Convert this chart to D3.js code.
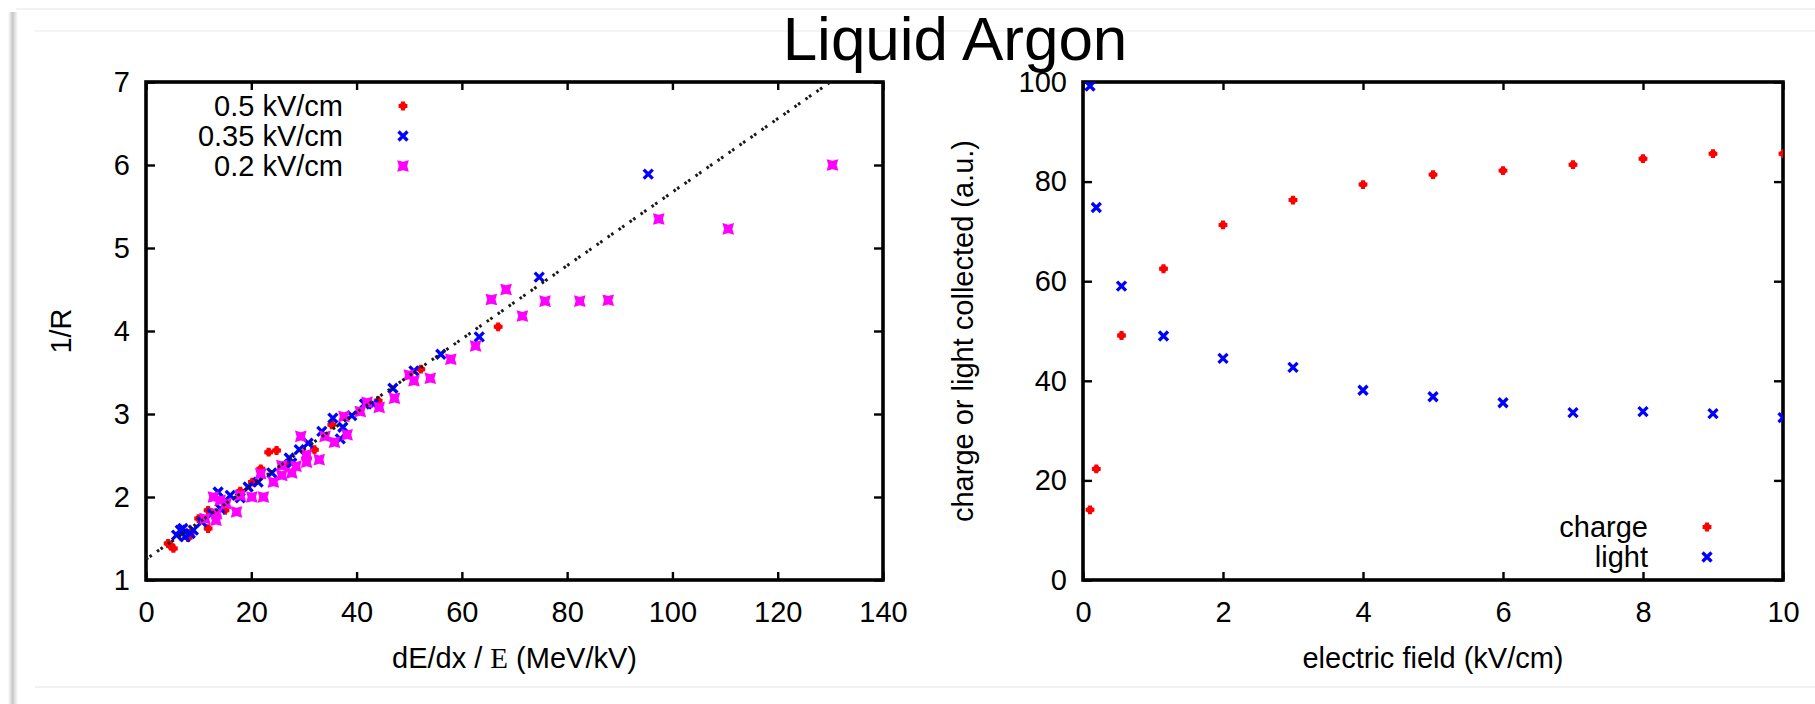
<!DOCTYPE html>
<html>
<head>
<meta charset="utf-8">
<script src="https://cdn.jsdelivr.net/npm/d3@7"></script>
<style>
  html, body { margin: 0; padding: 0; background: #fff; }
  svg { display: block; }
  text { font-family: "Liberation Sans", Arial, Helvetica, sans-serif; fill: #000; }
</style>
</head>
<body>
<svg id="chart" width="1815" height="704"></svg>
<script>
// ---------------- DATA ----------------
const title = "Liquid Argon";

// Left panel: 1/R vs dE/dx / E (MeV/kV)
const leftXTicks = [0, 20, 40, 60, 80, 100, 120, 140];
const leftYTicks = [1, 2, 3, 4, 5, 6, 7];
const seriesNames = ["0.5 kV/cm", "0.35 kV/cm", "0.2 kV/cm"];

const field05 = [
  [4.2,1.44],[4.6,1.42],[5.2,1.38],[8.0,1.51],[8.4,1.56],[10.0,1.74],[11.8,1.62],[11.8,1.84],
  [15.0,1.84],[17.9,2.07],[20.2,2.18],[21.8,2.34],[23.3,2.54],[24.8,2.56],[26.7,2.40],
  [32.0,2.57],[35.3,2.87],[44.1,3.16],[52.2,3.54],[66.9,4.05]
];
const field035 = [
  [5.8,1.54],[6.5,1.60],[7.0,1.62],[7.4,1.52],[8.4,1.56],[9.0,1.60],[10.6,1.70],[12.5,1.80],
  [13.7,2.06],[14.1,1.86],[16.0,2.02],[17.9,1.99],[19.4,2.12],[21.3,2.18],[23.9,2.29],
  [27.2,2.47],[27.7,2.41],[29.1,2.57],[30.8,2.65],[33.4,2.79],[35.5,2.95],[36.9,2.70],
  [37.4,2.84],[39.1,2.98],[41.5,3.12],[43.2,3.12],[46.9,3.31],[50.9,3.52],[56.0,3.72],
  [63.3,3.93],[74.7,4.65],[95.4,5.89]
];
const field02 = [
  [11.2,1.74],[12.8,2.00],[13.3,1.72],[13.4,1.80],[14.1,1.96],[15.2,1.92],[17.2,1.82],
  [17.9,2.02],[20.1,2.00],[22.3,2.00],[21.8,2.28],[24.2,2.18],[25.8,2.26],[25.8,2.38],
  [27.7,2.29],[28.5,2.37],[29.4,2.73],[30.5,2.42],[30.5,2.51],[32.9,2.45],[34.0,2.73],
  [35.8,2.66],[37.6,2.97],[38.2,2.75],[40.7,3.03],[42.0,3.14],[44.3,3.08],[47.2,3.19],
  [50.0,3.47],[50.9,3.40],[54.0,3.43],[57.9,3.66],[62.6,3.82],[65.6,4.38],[68.4,4.50],
  [71.5,4.18],[75.8,4.36],[82.4,4.36],[87.8,4.37],[97.4,5.35],[110.6,5.23],[130.4,6.00]
];
// linear fit (dotted line) end points
const fitX = [0, 130];
const fitY = [1.25, 7.0];

// Right panel: charge / light collected vs electric field
const rightXTicks = [0, 2, 4, 6, 8, 10];
const rightYTicks = [0, 20, 40, 60, 80, 100];
const fieldKV = [0.1, 0.19, 0.55, 1.15, 2, 3, 4, 5, 6, 7, 8, 9, 10];
const chargeVals = [14.1, 22.3, 49.1, 62.5, 71.3, 76.3, 79.4, 81.4, 82.2, 83.4, 84.6, 85.6, 85.6];
const lightVals  = [99.2, 74.8, 59.0, 49.0, 44.5, 42.7, 38.1, 36.8, 35.6, 33.6, 33.8, 33.4, 32.6];

// ---------------- DRAWING ----------------
const svg = d3.select("#chart");
const FS = 29;
const RED = "#ff0000", BLUE = "#0000ff", MAG = "#ff00ff";

// slide frame
const defs = svg.append("defs");
const grad = defs.append("linearGradient").attr("id", "shadow").attr("x1", 0).attr("x2", 1);
grad.append("stop").attr("offset", 0).attr("stop-color", "#fff");
grad.append("stop").attr("offset", 0.45).attr("stop-color", "#c8c8c8");
grad.append("stop").attr("offset", 1).attr("stop-color", "#fff");
svg.append("rect").attr("x", 8).attr("y", 12).attr("width", 10).attr("height", 692).attr("fill", "url(#shadow)");
svg.append("line").attr("x1", 16).attr("x2", 1815).attr("y1", 9).attr("y2", 9).attr("stroke", "#efefef").attr("stroke-width", 1.5);
svg.append("line").attr("x1", 35).attr("x2", 1815).attr("y1", 31).attr("y2", 31).attr("stroke", "#f0f0f0").attr("stroke-width", 1.5);
svg.append("line").attr("x1", 35).attr("x2", 1815).attr("y1", 687).attr("y2", 687).attr("stroke", "#ececec").attr("stroke-width", 1.5);

// markers
function plusPath(s) {
  const a = s * 0.45;
  return `M${-a},${-s}L${a},${-s}L${a},${-a}L${s},${-a}L${s},${a}L${a},${a}L${a},${s}L${-a},${s}L${-a},${a}L${-s},${a}L${-s},${-a}L${-a},${-a}Z`;
}
function starPath(s) {
  const n = s * 0.72;
  return `M${-s},${-s}L0,${-n}L${s},${-s}L${n},0L${s},${s}L0,${n}L${-s},${s}L${-n},0Z`;
}
function drawMarker(g, kind, x, y) {
  if (kind === "plus") {
    g.append("path").attr("transform", `translate(${x},${y})`).attr("d", plusPath(4.4)).attr("fill", RED);
    g.append("circle").attr("cx", x).attr("cy", y).attr("r", 3.4).attr("fill", RED);
  } else if (kind === "x") {
    const s = 4.5;
    g.append("path").attr("transform", `translate(${x},${y})`)
      .attr("d", `M${-s},${-s}L${s},${s}M${s},${-s}L${-s},${s}`)
      .attr("stroke", BLUE).attr("stroke-width", 3.3).attr("fill", "none");
  } else {
    g.append("path").attr("transform", `translate(${x},${y})`).attr("d", starPath(5.8)).attr("fill", MAG);
  }
}

function panel(box, xDomain, yDomain, xTicks, yTicks, clipId) {
  const x = d3.scaleLinear().domain(xDomain).range([box.x0, box.x1]);
  const y = d3.scaleLinear().domain(yDomain).range([box.y1, box.y0]);
  const g = svg.append("g");
  defs.append("clipPath").attr("id", clipId).append("rect")
    .attr("x", box.x0).attr("y", box.y0).attr("width", box.x1 - box.x0).attr("height", box.y1 - box.y0);

  const tickW = 2.4;
  const bottom = g.append("g").attr("transform", `translate(0,${box.y1})`)
    .call(d3.axisBottom(x).tickValues(xTicks).tickSizeInner(-8).tickSizeOuter(0).tickPadding(21.5).tickFormat(d3.format("d")));
  const left = g.append("g").attr("transform", `translate(${box.x0},0)`)
    .call(d3.axisLeft(y).tickValues(yTicks).tickSizeInner(-9).tickSizeOuter(0).tickPadding(16).tickFormat(d3.format("d")));
  const top = g.append("g").attr("transform", `translate(0,${box.y0})`)
    .call(d3.axisTop(x).tickValues(xTicks).tickSizeInner(-8).tickSizeOuter(0).tickFormat(""));
  const right = g.append("g").attr("transform", `translate(${box.x1},0)`)
    .call(d3.axisRight(y).tickValues(yTicks).tickSizeInner(-9).tickSizeOuter(0).tickFormat(""));
  [bottom, left, top, right].forEach(a => {
    a.select(".domain").remove();
    a.selectAll("line").attr("stroke", "#000").attr("stroke-width", tickW);
    a.selectAll("text").attr("font-size", FS).attr("font-family", "Liberation Sans, Arial, sans-serif").attr("fill", "#000");
  });
  g.append("rect").attr("x", box.x0).attr("y", box.y0).attr("width", box.x1 - box.x0).attr("height", box.y1 - box.y0)
    .attr("fill", "none").attr("stroke", "#000").attr("stroke-width", 3.6);
  const plot = svg.append("g").attr("clip-path", `url(#${clipId})`);
  return { x, y, plot };
}

// ---- Left panel ----
const LB = { x0: 146, x1: 883, y0: 82, y1: 580 };
const lp = panel(LB, [0, 140], [1, 7], leftXTicks, leftYTicks, "clipL");
field05.forEach(d => drawMarker(lp.plot, "plus", lp.x(d[0]), lp.y(d[1])));
field035.forEach(d => drawMarker(lp.plot, "x", lp.x(d[0]), lp.y(d[1])));
field02.forEach(d => drawMarker(lp.plot, "star", lp.x(d[0]), lp.y(d[1])));
lp.plot.append("path")
  .datum(fitX.map((v, i) => [v, fitY[i]]))
  .attr("d", d3.line().x(d => lp.x(d[0])).y(d => lp.y(d[1])))
  .attr("stroke", "#1a1a1a").attr("stroke-width", 3).attr("fill", "none")
  .attr("stroke-dasharray", "2.6 1.8 2.6 6.4");

// left legend
const legL = svg.append("g");
const legKinds = ["plus", "x", "star"];
seriesNames.forEach((name, i) => {
  const cy = 106 + i * 30;
  legL.append("text").attr("x", 343).attr("y", cy).attr("dy", "0.36em").attr("text-anchor", "end")
    .attr("font-size", FS).text(name);
  drawMarker(legL, legKinds[i], 403, cy);
});

// left axis labels
const xl = svg.append("text").attr("x", (LB.x0 + LB.x1) / 2).attr("y", 668).attr("text-anchor", "middle").attr("font-size", FS);
xl.append("tspan").text("dE/dx / ");
xl.append("tspan").attr("font-family", "Liberation Serif, Times New Roman, serif").text("E");
xl.append("tspan").text(" (MeV/kV)");
svg.append("text").attr("transform", `translate(61,${(LB.y0 + LB.y1) / 2}) rotate(-90)`)
  .attr("text-anchor", "middle").attr("dy", "0.36em").attr("font-size", FS).text("1/R");

// ---- Right panel ----
const RB = { x0: 1083, x1: 1783, y0: 82, y1: 580 };
const rp = panel(RB, [0, 10], [0, 100], rightXTicks, rightYTicks, "clipR");
fieldKV.forEach((f, i) => drawMarker(rp.plot, "plus", rp.x(f), rp.y(chargeVals[i])));
fieldKV.forEach((f, i) => drawMarker(rp.plot, "x", rp.x(f), rp.y(lightVals[i])));

const legR = svg.append("g");
[["charge", "plus"], ["light", "x"]].forEach((d, i) => {
  const cy = 527 + i * 30;
  legR.append("text").attr("x", 1648).attr("y", cy).attr("dy", "0.36em").attr("text-anchor", "end")
    .attr("font-size", FS).text(d[0]);
  drawMarker(legR, d[1], 1707, cy);
});

svg.append("text").attr("x", (RB.x0 + RB.x1) / 2).attr("y", 668).attr("text-anchor", "middle")
  .attr("font-size", FS).text("electric field (kV/cm)");
svg.append("text").attr("transform", `translate(963,${(RB.y0 + RB.y1) / 2}) rotate(-90)`)
  .attr("text-anchor", "middle").attr("dy", "0.36em").attr("font-size", FS).text("charge or light collected (a.u.)");

// title
svg.append("text").attr("x", 955).attr("y", 60).attr("text-anchor", "middle").attr("font-size", 62).text(title);
</script>
</body>
</html>
